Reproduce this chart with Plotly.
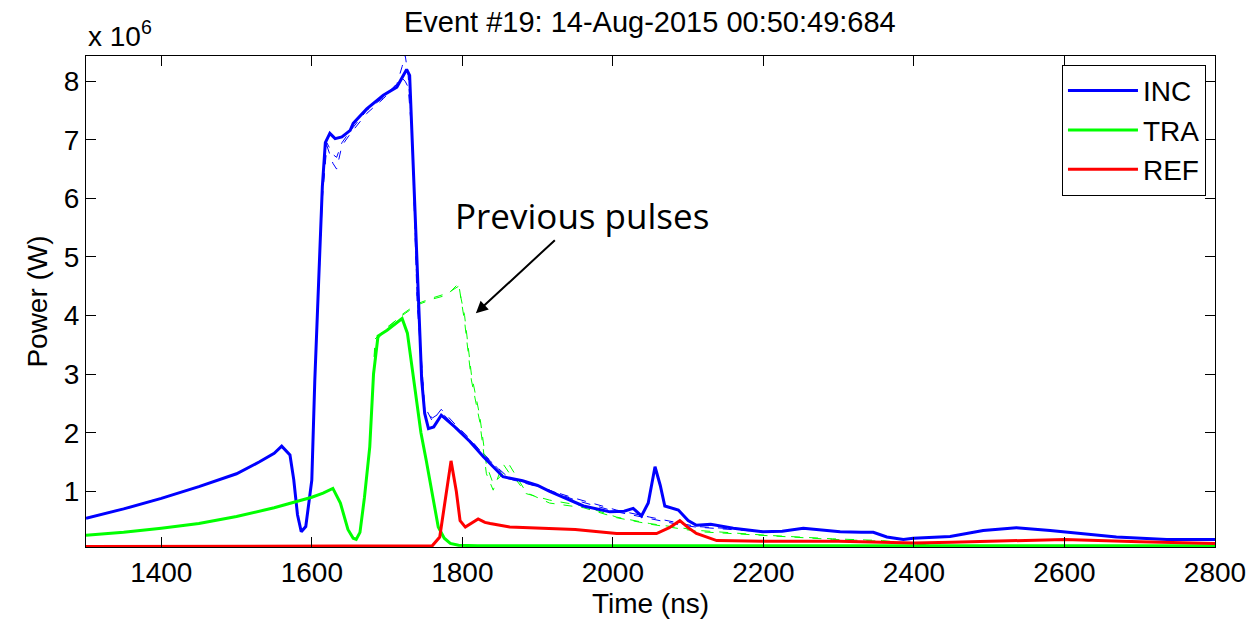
import plotly.graph_objects as go

# ---- data (power in units of 10^6 W, time in ns) ----
inc_t = [1300, 1350, 1400, 1450, 1500, 1530, 1550, 1560, 1571, 1576, 1581, 1586, 1592, 1600, 1604,
         1610, 1614, 1618, 1624, 1631, 1640, 1651, 1655, 1673, 1695, 1713, 1726, 1730, 1733, 1738,
         1742, 1746, 1750, 1755, 1762, 1772, 1790, 1810, 1828, 1854, 1880, 1900, 1916, 1961, 1996,
         2015, 2027, 2038, 2047, 2056, 2063, 2069, 2087, 2100, 2111, 2130, 2160, 2199, 2225, 2253,
         2280, 2302, 2330, 2346, 2364, 2386, 2399, 2448, 2492, 2536, 2581, 2625, 2669, 2736, 2800]
inc_p = [0.54, 0.70, 0.88, 1.08, 1.30, 1.50, 1.65, 1.77, 1.62, 1.20, 0.60, 0.31, 0.40, 1.19, 2.90,
         5.00, 6.20, 6.95, 7.11, 7.02, 7.05, 7.16, 7.28, 7.53, 7.76, 7.90, 8.20, 8.10, 7.20, 5.70,
         4.20, 2.90, 2.33, 2.07, 2.10, 2.30, 2.10, 1.85, 1.59, 1.25, 1.18, 1.10, 1.00, 0.75, 0.65,
         0.66, 0.71, 0.58, 0.80, 1.42, 1.10, 0.75, 0.68, 0.50, 0.42, 0.44, 0.37, 0.31, 0.32, 0.37,
         0.33, 0.31, 0.30, 0.30, 0.22, 0.18, 0.20, 0.23, 0.33, 0.38, 0.33, 0.28, 0.22, 0.18, 0.18]

tra_t = [1300, 1350, 1400, 1450, 1500, 1550, 1600, 1615, 1628, 1638, 1648, 1655, 1659, 1664, 1670,
         1677, 1682, 1688, 1700, 1710, 1720, 1727, 1735, 1745, 1752, 1760, 1768, 1776, 1784, 1795,
         1820, 1900, 2000, 2100, 2200, 2300, 2400, 2500, 2600, 2700, 2800]
tra_p = [0.25, 0.30, 0.37, 0.45, 0.57, 0.72, 0.90, 0.97, 1.05, 0.80, 0.35, 0.20, 0.18, 0.30, 0.90,
         1.76, 3.00, 3.65, 3.75, 3.85, 3.95, 3.70, 2.90, 2.00, 1.53, 0.95, 0.39, 0.20, 0.11, 0.08,
         0.07, 0.07, 0.07, 0.07, 0.07, 0.07, 0.07, 0.07, 0.07, 0.07, 0.07]

ref_t = [1300, 1760, 1770, 1778, 1785, 1792, 1797, 1804, 1812, 1821, 1830, 1837, 1863, 1900, 1950,
         2005, 2058, 2075, 2089, 2100, 2111, 2138, 2200, 2300, 2400, 2450, 2500, 2600, 2700, 2800]
ref_p = [0.06, 0.07, 0.22, 0.90, 1.52, 1.00, 0.50, 0.39, 0.45, 0.53, 0.47, 0.45, 0.39, 0.37, 0.35,
         0.28, 0.28, 0.38, 0.50, 0.38, 0.28, 0.16, 0.15, 0.15, 0.12, 0.13, 0.15, 0.18, 0.14, 0.11]

# previous pulses (thin lines)
prev_inc_t = [1604, 1614, 1620, 1628, 1633, 1640, 1651, 1673, 1695, 1713, 1720, 1724, 1728, 1733,
              1740, 1750, 1760, 1772, 1790, 1810, 1830, 1860, 1900, 1950, 2005, 2049, 2093, 2111,
              2160, 2200]
prev_inc_p = [2.90, 6.00, 6.90, 6.60, 6.50, 6.90, 7.10, 7.45, 7.70, 7.95, 8.25, 8.45, 8.10, 7.20,
              4.30, 2.45, 2.20, 2.40, 2.15, 1.90, 1.60, 1.25, 1.10, 0.85, 0.65, 0.54, 0.42, 0.39,
              0.35, 0.31]
prev_inc2_p = [2.90, 6.10, 6.95, 6.75, 6.70, 6.95, 7.15, 7.50, 7.72, 7.96, 8.05, 8.00, 7.90, 7.10,
               4.20, 2.40, 2.25, 2.35, 2.12, 1.88, 1.62, 1.22, 1.08, 0.88, 0.68, 0.56, 0.44, 0.40,
               0.36, 0.32]

prev_tra_t = [1677, 1684, 1700, 1720, 1740, 1760, 1780, 1795, 1803, 1812, 1823, 1832, 1841, 1854,
              1863, 1872, 1885, 1916, 1961, 2005, 2049, 2116, 2204, 2292, 2358, 2420]
prev_tra_p = [1.76, 3.60, 3.80, 4.00, 4.18, 4.28, 4.35, 4.55, 3.90, 2.90, 2.20, 1.30, 1.02, 1.47,
              1.30, 1.19, 0.96, 0.85, 0.75, 0.56, 0.45, 0.33, 0.25, 0.19, 0.16, 0.08]
prev_tra2_p = [1.76, 3.55, 3.78, 4.02, 4.20, 4.30, 4.38, 4.50, 4.00, 3.00, 2.30, 1.45, 1.13, 1.30,
               1.44, 1.25, 0.98, 0.80, 0.72, 0.55, 0.44, 0.31, 0.24, 0.18, 0.15, 0.08]

y_ticks = [1, 2, 3, 4, 5, 6, 7, 8]
x_ticks = [1400, 1600, 1800, 2000, 2200, 2400, 2600, 2800]

BLUE, GREEN, RED = "#0000FF", "#00FF00", "#FF0000"
FONT = "Liberation Sans, Arial, sans-serif"

fig = go.Figure()
# thin "previous pulse" traces
for p in (prev_inc_p, prev_inc2_p):
    fig.add_trace(go.Scatter(x=prev_inc_t, y=p, mode="lines", showlegend=False,
                             line=dict(color=BLUE, width=1, dash="dash")))
for p in (prev_tra_p, prev_tra2_p):
    fig.add_trace(go.Scatter(x=prev_tra_t, y=p, mode="lines", showlegend=False,
                             line=dict(color=GREEN, width=1, dash="dash")))
# main traces
fig.add_trace(go.Scatter(x=inc_t, y=inc_p, mode="lines", name="INC", line=dict(color=BLUE, width=3)))
fig.add_trace(go.Scatter(x=tra_t, y=tra_p, mode="lines", name="TRA", line=dict(color=GREEN, width=3)))
fig.add_trace(go.Scatter(x=ref_t, y=ref_p, mode="lines", name="REF", line=dict(color=RED, width=3)))

axis_common = dict(showline=True, linecolor="black", linewidth=1, mirror="ticks", ticks="inside",
                   ticklen=10, tickcolor="black", showgrid=False, zeroline=False,
                   tickfont=dict(family=FONT, size=28, color="black"))

fig.update_layout(
    width=1257, height=621,
    margin=dict(l=86, r=42, t=56, b=74),
    paper_bgcolor="white", plot_bgcolor="white",
    title=dict(text="Event #19: 14-Aug-2015 00:50:49:684", x=0.517, xanchor="center",
               y=0.965, yanchor="middle", font=dict(family=FONT, size=29, color="black")),
    xaxis=dict(range=[1300, 2800], tickvals=x_ticks, ticktext=[str(v) for v in x_ticks],
               title=dict(text="Time (ns)", font=dict(family=FONT, size=28, color="black"), standoff=2),
               **axis_common),
    yaxis=dict(range=[0.05, 8.43], tickvals=y_ticks, ticktext=[str(v) for v in y_ticks],
               title=dict(text="Power (W)", font=dict(family=FONT, size=28, color="black"), standoff=8),
               **axis_common),
    legend=dict(x=0.992, xanchor="right", y=0.982, yanchor="top", bgcolor="white",
                bordercolor="black", borderwidth=1, itemwidth=70,
                font=dict(family=FONT, size=28, color="black")),
    showlegend=True,
)

fig.add_annotation(text="x 10<sup>6</sup>", xref="paper", yref="paper", x=0, y=1, xanchor="left",
                   yanchor="bottom", yshift=2, showarrow=False,
                   font=dict(family=FONT, size=28, color="black"))
# label with its arrow pointing to the previous-pulse trace
fig.add_annotation(text="Previous pulses", x=1818, y=4.04, xref="x", yref="y", ax=106, ay=-98,
                   showarrow=True, arrowhead=2, arrowsize=1.2, arrowwidth=2, arrowcolor="black",
                   font=dict(family="Open Sans, sans-serif", size=35, color="black"))

fig.write_html("out.html")
